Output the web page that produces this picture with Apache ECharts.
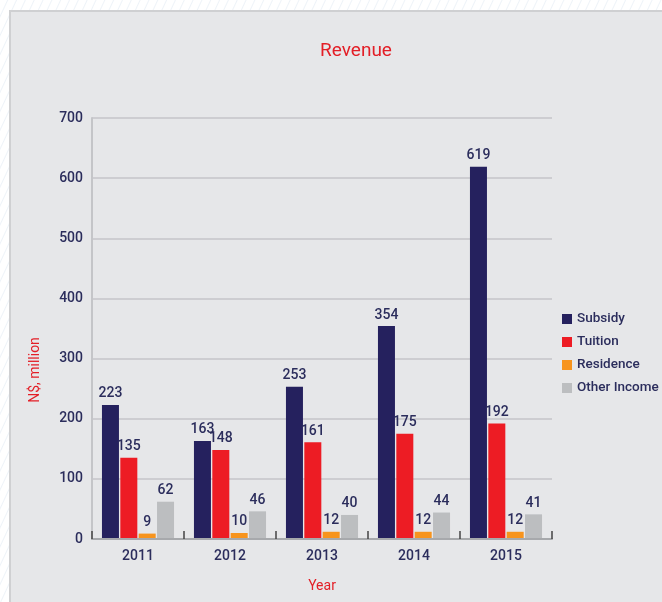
<!DOCTYPE html>
<html>
<head>
<meta charset="utf-8">
<script src="https://cdn.jsdelivr.net/npm/echarts@6/dist/echarts.min.js"></script>
<style>
	html, body { margin: 0; padding: 0; background: #fff; }
	#wrap {
		width: 662px; height: 602px; position: relative;
		background: repeating-linear-gradient(115deg, #fff 0px, #fff 6px, #eef3f8 7px, #fff 8px);
	}
	#myChart { width: 662px; height: 602px; position: absolute; left: 0; top: 0; }
</style>
</head>
<body>
<div id="wrap"><div id="myChart"></div></div>
<script>
	var years = ['2011', '2012', '2013', '2014', '2015'];
	var subsidy = [223, 163, 253, 354, 619];
	var tuition = [135, 148, 161, 175, 192];
	var residence = [9, 10, 12, 12, 12];
	var otherIncome = [62, 46, 40, 44, 41];

	var navy = '#2b2d5c';
	var red = '#e31e26';
	var font = 'Roboto, sans-serif';

	function bar(name, data, color) {
		return {
			name: name,
			type: 'bar',
			data: data,
			barWidth: 17,
			barGap: '8%',
			itemStyle: { color: color },
			label: {
				show: true,
				position: 'top',
				distance: 4,
				color: navy,
				fontFamily: font,
				fontWeight: 500,
				fontSize: 14
			}
		};
	}

	let myChart = echarts.init(document.getElementById('myChart'));
	myChart.setOption({
		backgroundColor: 'transparent',
		animation: false,
		title: {
			text: 'Revenue',
			left: 351,
			textAlign: 'center',
			top: 37,
			textStyle: { color: red, fontFamily: font, fontSize: 19, fontWeight: 'normal' }
		},
		graphic: [{
			type: 'rect',
			z: -10,
			shape: { x: 10, y: 11, width: 660, height: 600 },
			style: { fill: '#e6e7e9', stroke: '#cfd0d2', lineWidth: 2 }
		}, {
			type: 'text',
			x: 35,
			y: 370,
			rotation: Math.PI / 2,
			style: {
				text: 'N$, million',
				fill: red,
				font: '14px ' + font,
				align: 'center',
				verticalAlign: 'middle'
			}
		}],
		legend: {
			orient: 'vertical',
			left: 557,
			top: 307,
			itemWidth: 10,
			itemHeight: 10,
			itemGap: 9,
			icon: 'rect',
			textStyle: { color: navy, fontFamily: font, fontWeight: 500, fontSize: 13.5 },
			data: ['Subsidy', 'Tuition', 'Residence', 'Other Income']
		},
		grid: { left: 92, right: 110, top: 118, bottom: 63 },
		xAxis: {
			type: 'category',
			data: years,
			name: 'Year',
			nameLocation: 'middle',
			nameGap: 40,
			nameTextStyle: { color: red, fontFamily: font, fontSize: 14 },
			axisLine: { lineStyle: { color: '#a7a9ac', width: 2 } },
			axisTick: { show: true, inside: true, length: 8, lineStyle: { color: '#444', width: 1.5 } },
			axisLabel: { color: navy, fontFamily: font, fontWeight: 500, fontSize: 14, margin: 10 },
			z: 10
		},
		yAxis: {
			type: 'value',
			min: 0,
			max: 700,
			interval: 100,
			axisLine: { show: true, lineStyle: { color: '#c4c5c8', width: 2 } },
			axisTick: { show: false },
			splitLine: { lineStyle: { color: '#c4c5c8', width: 1.5 } },
			axisLabel: { color: navy, fontFamily: font, fontWeight: 500, fontSize: 14, margin: 9 }
		},
		series: [
			bar('Subsidy', subsidy, '#25215e'),
			bar('Tuition', tuition, '#ed1c24'),
			bar('Residence', residence, '#f7941d'),
			bar('Other Income', otherIncome, '#bcbec0')
		]
	});
</script>
</body>
</html>
